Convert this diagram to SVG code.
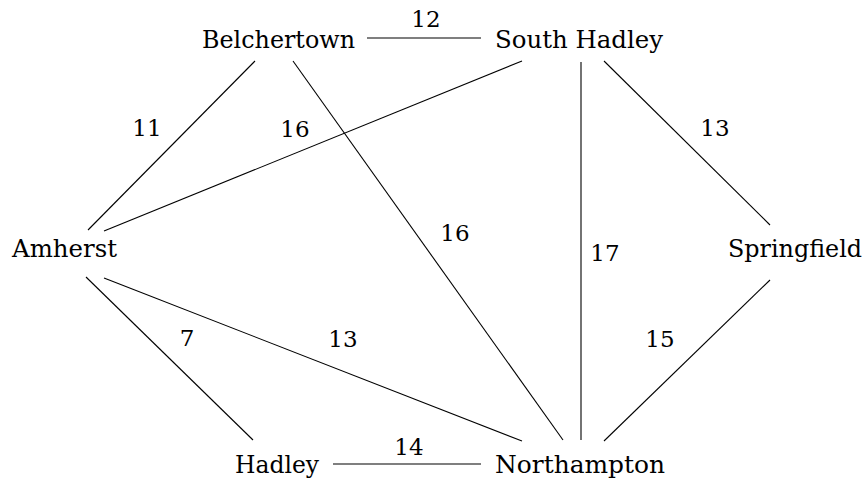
<svg xmlns="http://www.w3.org/2000/svg" width="867" height="482" viewBox="0 0 867 482">
<style>
.e line{stroke:#000;stroke-width:1.1}
.lab text{font-size:23px}
</style>
<rect width="867" height="482" fill="#fff"/>
<g id="connectors" class="e">
<line x1="367" y1="38" x2="481" y2="38"/>
<line x1="333" y1="464" x2="481" y2="464"/>
<line x1="255" y1="61" x2="88" y2="230"/>
<line x1="293" y1="61" x2="563" y2="440"/>
<line x1="522" y1="61" x2="104" y2="231"/>
<line x1="581" y1="62" x2="581" y2="440"/>
<line x1="604" y1="61" x2="770" y2="225"/>
<line x1="86" y1="277" x2="253" y2="440"/>
<line x1="104" y1="278" x2="522" y2="441"/>
<line x1="770" y1="280" x2="604" y2="441"/>
</g>
<g font-family="DejaVu Serif, serif" font-size="25" fill="#000" text-anchor="middle">
<g id="labels" class="lab">
<text x="426" y="27">12</text>
<text x="409" y="455">14</text>
<text x="147" y="136">11</text>
<text x="295" y="137">16</text>
<text x="715" y="136">13</text>
<text x="455" y="241">16</text>
<text x="605" y="261">17</text>
<text x="187" y="346">7</text>
<text x="343" y="347">13</text>
<text x="660" y="347">15</text>
</g>
<g id="belchertown"><text x="278.5" y="48" textLength="153" lengthAdjust="spacingAndGlyphs">Belchertown</text></g>
<g id="southhadley"><text x="579" y="48" textLength="168" lengthAdjust="spacingAndGlyphs">South Hadley</text></g>
<g id="amherst"><text x="64.5" y="257" textLength="105" lengthAdjust="spacingAndGlyphs">Amherst</text></g>
<g id="springfield"><text x="795" y="257" textLength="134" lengthAdjust="spacingAndGlyphs">Springfield</text></g>
<g id="hadley"><text x="277" y="473" textLength="84" lengthAdjust="spacingAndGlyphs">Hadley</text></g>
<g id="northampton"><text x="580" y="473" textLength="170" lengthAdjust="spacingAndGlyphs">Northampton</text></g>
</g>
</svg>
